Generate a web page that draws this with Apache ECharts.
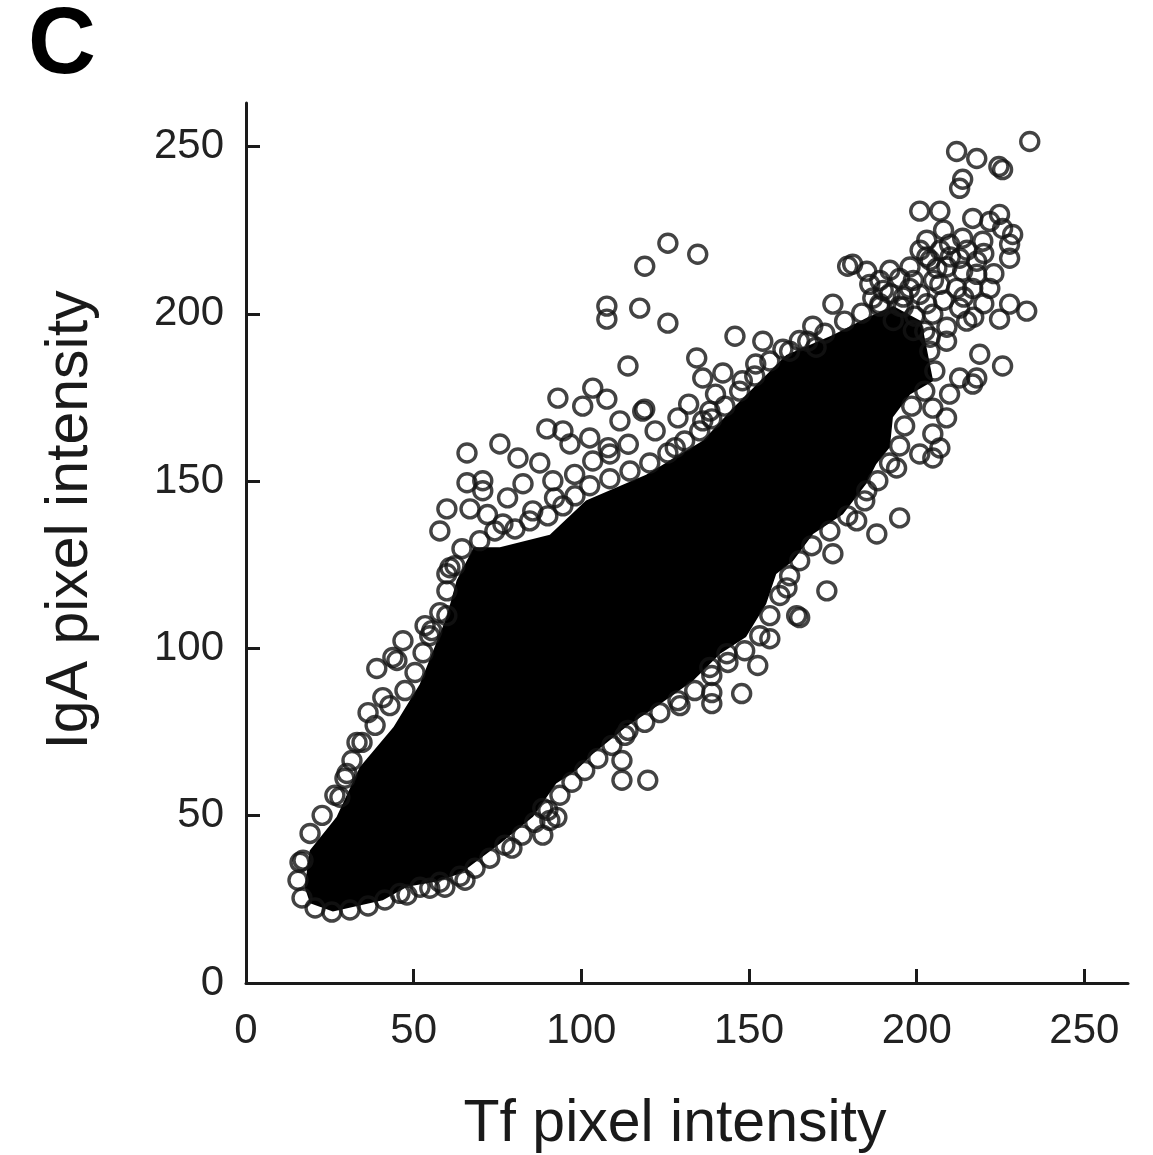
<!DOCTYPE html>
<html>
<head>
<meta charset="utf-8">
<title>IgA vs Tf pixel intensity</title>
<script src="https://cdn.jsdelivr.net/npm/echarts@6/dist/echarts.min.js"></script>
<style>
  html, body { margin: 0; padding: 0; background: #fff; }
  #main { width: 1153px; height: 1155px; }
</style>
</head>
<body>
<div id="main"></div>
<script>
// tick labels shared by both axes
const tickValues = [0, 50, 100, 150, 200, 250];

// outline of the solid black core of the cloud [Tf, IgA]
const cloudOutline = [
  [17.5, 28.6], [19.0, 39.6], [27.0, 49.6], [33.9, 64.5], [44.0, 76.5], [51.8, 89.3],
  [59.8, 109.3], [62.8, 120.3], [67.9, 130.2], [75.7, 130.2], [90.6, 134.0], [101.4, 144.2],
  [119.3, 151.9], [136.3, 162.1], [145.3, 171.9], [161.1, 187.7], [175.0, 193.7], [185.1, 198.8],
  [193.0, 202.3], [201.4, 197.8], [204.9, 179.9], [198.0, 175.9], [192.9, 169.1], [192.0, 160.1],
  [187.9, 155.0], [184.9, 149.1], [178.0, 140.1], [169.1, 134.2], [163.1, 126.1], [158.1, 122.2],
  [155.1, 113.3], [149.1, 103.4], [141.4, 98.4], [133.3, 90.3], [123.5, 83.4], [113.4, 76.6],
  [103.5, 68.5], [98.4, 63.5], [92.5, 59.6], [85.6, 49.7], [75.8, 41.7], [63.9, 32.7],
  [56.9, 30.3], [48.0, 28.8], [40.8, 24.7], [25.9, 21.4], [19.1, 23.8]
];

// circles sitting on the rim of the dense core
const cloudEdge = [
  [22.7, 50.1], [26.5, 56.1], [29.5, 61.2], [31.6, 66.5], [34.6, 71.9], [38.5, 77.0],
  [42.9, 82.9], [47.4, 87.4], [50.4, 92.8], [52.8, 98.7], [55.4, 105.3], [57.8, 110.7],
  [59.9, 117.2], [62.3, 124.7], [64.4, 129.8], [69.7, 132.2], [74.2, 135.1], [80.2, 135.7],
  [84.6, 138.1], [90.0, 139.6], [94.5, 142.6], [98.1, 145.6], [102.5, 148.6], [108.5, 150.7],
  [114.5, 153.0], [120.4, 155.4], [125.8, 158.4], [130.8, 162.0], [135.3, 165.0], [138.9, 168.6],
  [142.8, 172.4], [147.2, 176.9], [151.7, 181.4], [156.2, 185.9], [162.1, 188.8], [167.5, 191.8],
  [172.6, 194.2], [178.5, 197.8], [183.6, 200.2], [189.0, 202.3], [194.9, 202.3], [199.4, 199.3],
  [202.4, 194.8], [203.9, 188.8], [205.4, 182.9], [202.4, 176.9], [198.5, 172.4], [196.4, 166.5],
  [194.9, 160.5], [191.9, 155.4], [188.4, 150.1], [184.5, 144.1], [179.4, 139.6], [174.1, 135.1],
  [168.7, 130.7], [165.1, 126.2], [162.1, 121.7], [159.2, 115.8], [156.2, 109.8], [153.2, 103.8],
  [148.7, 99.3], [143.7, 95.8], [138.9, 91.9], [133.8, 87.4], [128.8, 84.4], [123.4, 80.8],
  [118.9, 77.9], [113.9, 75.5], [109.1, 71.0], [104.9, 67.1], [101.0, 63.5], [97.2, 60.0],
  [93.6, 56.1], [90.0, 51.6], [86.1, 48.0], [82.3, 44.2], [77.2, 41.2], [72.7, 37.3],
  [68.3, 34.3], [63.8, 31.9], [57.8, 30.1], [51.9, 28.6], [45.9, 26.8], [41.4, 24.8],
  [36.4, 23.0], [31.0, 21.8], [25.6, 21.2], [20.6, 22.4], [16.7, 25.4], [15.5, 30.7], [16.1, 36.1]
];

// bright top-right group
const upperRight = [
  [233.7, 251.5], [211.9, 248.5], [217.9, 246.4], [225.6, 243.1], [224.5, 244.0], [213.7, 240.2],
  [212.8, 237.5], [200.9, 230.7], [206.9, 230.7], [216.7, 228.5], [224.7, 229.7], [221.8, 227.6],
  [225.6, 225.5], [228.6, 223.7], [209.8, 220.8], [213.7, 222.6], [219.7, 221.7], [227.7, 220.8],
  [227.7, 216.6], [212.8, 216.6], [217.9, 215.7], [206.0, 213.6], [213.7, 212.7], [217.9, 211.8],
  [221.8, 207.6], [206.9, 208.8], [211.9, 207.6], [216.7, 207.6], [185.1, 212.7], [180.9, 214.8],
  [186.0, 208.8], [186.9, 204.7], [194.9, 210.6], [197.9, 207.6], [200.9, 205.8], [227.7, 202.9],
  [232.8, 200.8], [224.7, 198.4], [212.8, 201.7], [214.9, 197.8], [218.8, 187.9], [225.6, 184.4],
  [212.8, 180.8], [217.9, 180.8], [208.9, 191.8], [204.8, 199.9], [203, 222], [208, 225],
  [215, 219], [220, 218], [223, 212], [209, 214], [203, 217], [198, 214], [192, 206], [189, 203],
  [196, 202], [203, 203], [208, 204], [214, 205], [220, 203], [217, 199], [209, 196], [204, 193],
  [199, 195], [193, 198], [189, 210], [192, 213], [199, 210], [204, 216], [201, 219], [207, 219],
  [210, 217], [205, 210], [196, 205], [190, 207]
];

// right and lower-right edge of the cloud
const lowerRight = [
  [204.8, 156.9], [200.9, 158.1], [206.9, 159.9], [204.8, 164.1], [208.9, 168.9], [204.8, 171.8],
  [209.8, 176.0], [216.7, 179.0], [194.0, 153.9], [194.9, 139.0], [188.1, 134.2], [175.0, 128.3],
  [173.2, 117.2], [165.1, 109.2], [185.1, 147.1], [182.1, 138.1], [164.2, 109.8], [152.6, 94.9],
  [147.8, 86.5], [138.9, 83.5], [138.9, 86.8], [138.3, 94.3], [129.4, 82.9], [113.0, 74.0],
  [112.1, 66.5], [112.1, 60.6], [119.8, 60.6], [156.2, 102.9], [161.3, 118.1], [143.4, 98.4],
  [90.6, 48.6], [92.7, 49.5], [88.5, 44.2], [79.3, 40.3], [65.3, 30.7], [59.3, 28.6],
  [54.8, 28.3], [48.0, 26.3], [88.5, 52.2]
];

// left and upper edge of the cloud
const upperLeft = [
  [39.0, 94.0], [45.0, 96.4], [40.8, 85.3], [36.4, 80.8], [33.1, 71.9], [30.1, 62.6],
  [28.0, 55.5], [19.1, 44.7], [17.0, 36.7], [46.8, 102.3], [43.8, 97.3], [54.8, 103.8],
  [59.9, 109.8], [59.9, 122.3], [57.8, 135.1], [76.6, 137.2], [60.8, 124.1], [53.4, 106.8],
  [107.6, 202.3], [107.6, 198.4], [117.4, 201.7], [113.9, 184.4], [93.0, 174.8], [103.4, 177.8],
  [100.4, 172.4], [107.6, 174.5], [118.3, 170.9], [111.5, 168.0], [89.7, 165.6], [94.5, 165.0],
  [96.6, 161.1], [102.5, 162.9], [65.9, 158.4], [75.7, 161.1], [81.1, 156.9], [87.6, 155.4],
  [65.9, 149.5], [70.6, 150.1], [70.6, 147.1], [82.6, 149.2], [91.5, 150.1], [59.9, 141.7],
  [66.8, 141.7], [85.5, 141.1], [103.4, 156.0], [108.5, 158.1], [125.8, 221.1], [134.7, 217.8],
  [118.9, 214.2], [125.8, 197.2], [118.9, 171.5], [128.8, 168.9], [134.4, 186.8], [136.2, 180.8],
  [142.2, 182.3], [145.8, 193.3], [154.1, 191.8], [160.1, 189.4], [169.0, 196.3], [175.0, 202.9],
  [179.4, 214.2], [138.3, 170.9], [136.2, 168.0], [108, 160], [114, 161], [122, 165], [128, 160],
  [132, 173], [140, 176], [148, 180], [152, 185], [165, 192], [170, 190], [98, 152], [92, 145],
  [78, 145], [72, 140]
];

const chart = echarts.init(document.getElementById('main'));
const font = '"Liberation Sans", Arial, Helvetica, sans-serif';
const ink = '#141414';

const circleStyle = {
  color: 'rgba(0,0,0,0)',
  borderColor: ink,
  borderWidth: 3.4
};

function axis(name) {
  return {
    type: 'value',
    min: 0,
    max: 263,
    interval: 50,
    name: name,
    nameLocation: 'middle',
    nameTextStyle: { fontFamily: font, fontSize: 59, color: '#1a1a1a' },
    axisLine: { show: true, lineStyle: { color: '#1a1a1a', width: 3 } },
    axisTick: { show: true, inside: true, length: 14, lineStyle: { color: '#1a1a1a', width: 3 }, customValues: tickValues },
    axisLabel: { fontFamily: font, fontSize: 42, color: '#222', margin: 22, customValues: tickValues },
    splitLine: { show: false }
  };
}

const xAxis = axis('Tf pixel intensity');
xAxis.nameGap = 112;
xAxis.axisLabel.margin = 27;
xAxis.nameTextStyle.padding = [0, 24, 0, 0];

const yAxis = axis('IgA pixel intensity');
yAxis.nameGap = 146;
yAxis.nameTextStyle.padding = [0, 0, 0, 46];

function circles(data) {
  return { type: 'scatter', data: data, symbol: 'circle', symbolSize: 18, itemStyle: circleStyle };
}

const option = {
  backgroundColor: '#fff',
  animation: false,
  grid: { left: 246, right: 25, top: 103, bottom: 172, outerBoundsMode: 'none' },
  xAxis: xAxis,
  yAxis: yAxis,
  graphic: [{
    type: 'text',
    left: 28,
    top: 0,
    style: { text: 'C', fontFamily: font, fontWeight: 'bold', fontSize: 94, fill: '#000' }
  }],
  series: [
    {
      // dense core where circles fully overlap
      type: 'custom',
      data: [0],
      renderItem: function (params, api) {
        return {
          type: 'polygon',
          shape: { points: cloudOutline.map(p => api.coord(p)) },
          style: { fill: '#000' }
        };
      }
    },
    circles(cloudEdge),
    circles(upperRight),
    circles(lowerRight),
    circles(upperLeft)
  ]
};

chart.setOption(option);
</script>
</body>
</html>
